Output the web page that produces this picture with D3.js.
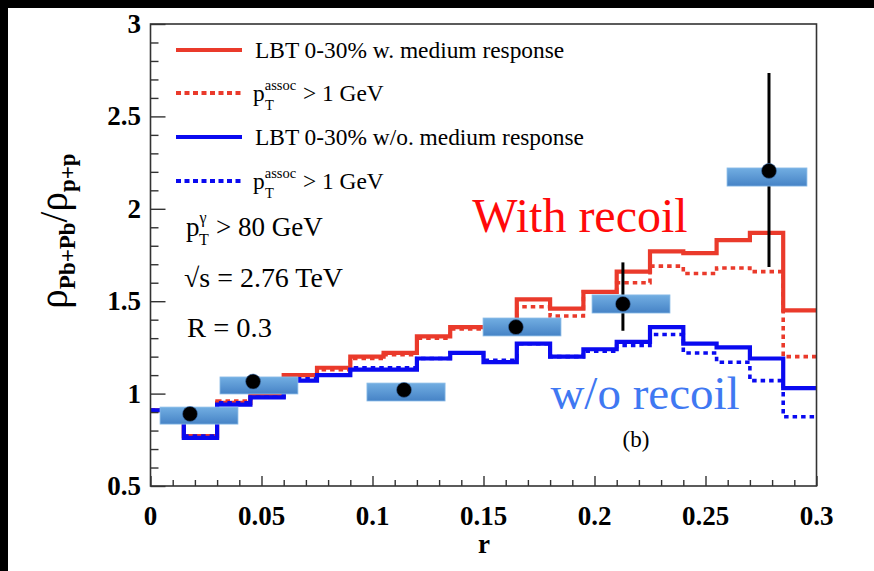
<!DOCTYPE html>
<html>
<head>
<meta charset="utf-8">
<script src="https://cdn.jsdelivr.net/npm/d3@7"></script>
<style>
  html, body { margin: 0; padding: 0; background: #fff; }
  svg { display: block; }
  text { font-family: "Liberation Serif", "Times New Roman", serif; }
</style>
</head>
<body>
<svg id="chart" width="874" height="571"></svg>
<script>
// ---------------- data ----------------
const binLowEdges = [0, 0.015, 0.03, 0.045, 0.06, 0.075, 0.09, 0.105, 0.12, 0.135,
                     0.15, 0.165, 0.18, 0.195, 0.21, 0.225, 0.24, 0.255, 0.27, 0.285];
const binUpperEnd = 0.3;
const redSolid   = [0.91, 0.77, 0.95, 0.99, 1.10, 1.14, 1.20, 1.22, 1.31, 1.36,
                    1.36, 1.51, 1.46, 1.55, 1.66, 1.77, 1.76, 1.83, 1.87, 1.45];
const redDotted  = [0.91, 0.77, 0.96, 0.99, 1.10, 1.13, 1.19, 1.21, 1.30, 1.35,
                    1.36, 1.47, 1.42, 1.55, 1.60, 1.69, 1.65, 1.68, 1.66, 1.20];
const blueSolid  = [0.91, 0.76, 0.94, 0.98, 1.07, 1.10, 1.13, 1.13, 1.19, 1.22,
                    1.17, 1.27, 1.20, 1.24, 1.28, 1.36, 1.27, 1.25, 1.19, 1.03];
const blueDotted = [0.91, 0.77, 0.95, 0.98, 1.08, 1.10, 1.14, 1.14, 1.19, 1.22,
                    1.18, 1.27, 1.20, 1.23, 1.26, 1.32, 1.22, 1.17, 1.07, 0.875];

const pointR   = [0.0178, 0.0462, 0.1142, 0.1646, 0.2128, 0.2786];
const pointV   = [0.89, 1.065, 1.02, 1.36, 1.485, 2.205];
const statLo   = [0.89, 1.065, 1.02, 1.36, 1.34, 1.685];
const statHi   = [0.89, 1.065, 1.02, 1.36, 1.71, 2.735];
const sysRLo   = [0.0043, 0.0313, 0.0975, 0.1498, 0.1989, 0.2597];
const sysRHi   = [0.0394, 0.0664, 0.1327, 0.1849, 0.2340, 0.2957];
const sysVLo   = [0.835, 0.998, 0.960, 1.312, 1.436, 2.123];
const sysVHi   = [0.927, 1.090, 1.057, 1.409, 1.534, 2.221];

const xTickLabels = ["0", "0.05", "0.1", "0.15", "0.2", "0.25", "0.3"];
const xTickValues = [0, 0.05, 0.1, 0.15, 0.2, 0.25, 0.3];
const yTickLabels = ["0.5", "1", "1.5", "2", "2.5", "3"];
const yTickValues = [0.5, 1, 1.5, 2, 2.5, 3];

// ---------------- layout ----------------
const svg = d3.select("#chart");
const W = 874, H = 571;
const plot = { left: 150.5, right: 816.5, top: 24, bottom: 486 };

svg.append("rect").attr("width", W).attr("height", H).attr("fill", "#fff");
// black border strips of the original scan
svg.append("rect").attr("x", 0).attr("y", 0).attr("width", W).attr("height", 8).attr("fill", "#000");
svg.append("rect").attr("x", 0).attr("y", 0).attr("width", 8).attr("height", H).attr("fill", "#000");

const x = d3.scaleLinear().domain([0, 0.3]).range([plot.left, plot.right]);
const y = d3.scaleLinear().domain([0.5, 3]).range([plot.bottom, plot.top]);

const defs = svg.append("defs");
const grad = defs.append("linearGradient").attr("id", "boxGrad")
  .attr("x1", 0).attr("y1", 0).attr("x2", 0).attr("y2", 1);
grad.append("stop").attr("offset", "0%").attr("stop-color", "#72aee2");
grad.append("stop").attr("offset", "100%").attr("stop-color", "#4683c6");
defs.append("clipPath").attr("id", "plotClip").append("rect")
  .attr("x", plot.left).attr("y", plot.top)
  .attr("width", plot.right - plot.left).attr("height", plot.bottom - plot.top);

// ---------------- histograms ----------------
const RED = "#ea3a2b", BLUE = "#0a0af0";
function stepData(vals) {
  const pts = binLowEdges.map((e, i) => [e, vals[i]]);
  pts.push([binUpperEnd, vals[vals.length - 1]]);
  return pts;
}
const stepLine = d3.line().x(d => x(d[0])).y(d => y(d[1])).curve(d3.curveStepAfter);
const gLines = svg.append("g").attr("clip-path", "url(#plotClip)");
const series = [
  { v: redSolid,   c: RED,  dash: null },
  { v: redDotted,  c: RED,  dash: "4.5,4" },
  { v: blueSolid,  c: BLUE, dash: null },
  { v: blueDotted, c: BLUE, dash: "4.5,4" }
];
series.forEach(s => {
  gLines.append("path").datum(stepData(s.v))
    .attr("d", stepLine).attr("fill", "none")
    .attr("stroke", s.c).attr("stroke-width", s.dash ? 3.6 : 4.2)
    .attr("stroke-dasharray", s.dash)
    .attr("stroke-linejoin", "miter").attr("stroke-linecap", "butt");
});

// ---------------- data points ----------------
const gPts = svg.append("g");
pointR.forEach((r, i) => {
  if (statHi[i] > statLo[i]) {
    gPts.append("line").attr("x1", x(r)).attr("x2", x(r))
      .attr("y1", y(statLo[i])).attr("y2", y(statHi[i]))
      .attr("stroke", "#000").attr("stroke-width", 3);
  }
});
pointR.forEach((r, i) => {
  gPts.append("rect")
    .attr("x", x(sysRLo[i])).attr("y", y(sysVHi[i]))
    .attr("width", x(sysRHi[i]) - x(sysRLo[i]))
    .attr("height", y(sysVLo[i]) - y(sysVHi[i]))
    .attr("fill", "url(#boxGrad)").attr("stroke", "#8cbde8").attr("stroke-width", 0.8);
});
pointR.forEach((r, i) => {
  gPts.append("circle").attr("cx", x(r)).attr("cy", y(pointV[i])).attr("r", 7.5)
    .attr("fill", "#000").attr("stroke", "#3a6fb0").attr("stroke-width", 0.6);
});

// ---------------- frame & axes ----------------
svg.append("rect").attr("x", plot.left).attr("y", plot.top)
  .attr("width", plot.right - plot.left).attr("height", plot.bottom - plot.top)
  .attr("fill", "none").attr("stroke", "#333").attr("stroke-width", 1.6);

const yMinor = d3.range(5, 31).map(k => k / 10);
const xMinor = d3.range(0, 31).map(k => k / 100);
const yAxis = d3.axisRight(y).tickValues(yMinor).tickSize(0).tickFormat("");
const gy = svg.append("g").attr("transform", `translate(${plot.left},0)`).call(yAxis);
gy.select(".domain").remove();
gy.selectAll(".tick line").remove();
gy.selectAll(".tick").append("line")
  .attr("x1", 0).attr("x2", d => (Math.abs(d * 2 - Math.round(d * 2)) < 1e-6 ? 15 : 8))
  .attr("stroke", "#333").attr("stroke-width", 1.4);

const xAxis = d3.axisTop(x).tickValues(xMinor).tickSize(0).tickFormat("");
const gx = svg.append("g").attr("transform", `translate(0,${plot.bottom})`).call(xAxis);
gx.select(".domain").remove();
gx.selectAll(".tick line").remove();
gx.selectAll(".tick").append("line")
  .attr("y1", 0).attr("y2", d => (Math.abs(d * 20 - Math.round(d * 20)) < 1e-6 ? -10 : -6))
  .attr("stroke", "#333").attr("stroke-width", 1.4);

// tick labels
const gxl = svg.append("g");
xTickValues.forEach((v, i) => {
  gxl.append("text").attr("x", x(v)).attr("y", 525)
    .attr("text-anchor", "middle").attr("font-weight", "bold").attr("font-size", 27)
    .attr("fill", "#000").text(xTickLabels[i]);
});
yTickValues.forEach((v, i) => {
  gxl.append("text").attr("x", 141).attr("y", y(v) + 9)
    .attr("text-anchor", "end").attr("font-weight", "bold").attr("font-size", 27)
    .attr("fill", "#000").text(yTickLabels[i]);
});

// axis titles
svg.append("text").attr("x", 484).attr("y", 553).attr("text-anchor", "middle")
  .attr("font-weight", "bold").attr("font-size", 27).text("r");

const yt = svg.append("text").attr("transform", "translate(67,231) rotate(-90)")
  .attr("text-anchor", "middle").attr("font-size", 39);
yt.append("tspan").text("ρ");
yt.append("tspan").attr("font-size", 23).attr("font-weight", "bold").attr("dy", 8).text("Pb+Pb");
yt.append("tspan").attr("dy", -8).text("/ρ");
yt.append("tspan").attr("font-size", 23).attr("font-weight", "bold").attr("dy", 8).text("p+p");

// ---------------- legend ----------------
const legend = [
  { c: RED,  dash: null,    y: 50,  label: "main", text: "LBT 0-30% w. medium response" },
  { c: RED,  dash: "5,3.5", y: 93,  label: "pt" },
  { c: BLUE, dash: null,    y: 137, label: "main", text: "LBT 0-30% w/o. medium response" },
  { c: BLUE, dash: "5,3.5", y: 181, label: "pt" }
];
legend.forEach(l => {
  svg.append("line").attr("x1", 176).attr("x2", 242).attr("y1", l.y).attr("y2", l.y)
    .attr("stroke", l.c).attr("stroke-width", 4).attr("stroke-dasharray", l.dash);
  if (l.label === "main") {
    svg.append("text").attr("x", 255).attr("y", l.y + 8).attr("font-size", 23.4).text(l.text);
  } else {
    const t = svg.append("text").attr("x", 253).attr("y", l.y + 8).attr("font-size", 23.4);
    t.append("tspan").text("p");
    t.append("tspan").attr("font-size", 14.5).attr("dy", -11).text("assoc");
    t.append("tspan").attr("font-size", 14.5).attr("x", 265).attr("dy", 20).text("T");
    t.append("tspan").attr("x", 303).attr("dy", -9).text("> 1 GeV");
  }
});

// ---------------- annotations ----------------
const ann = svg.append("g").attr("font-size", 27);
const a1 = ann.append("text").attr("x", 186).attr("y", 236);
a1.append("tspan").text("p");
a1.append("tspan").attr("font-size", 16).attr("dy", -13).text("γ");
a1.append("tspan").attr("font-size", 16).attr("x", 199).attr("dy", 22).text("T");
a1.append("tspan").attr("x", 216).attr("dy", -9).text("> 80 GeV");
ann.append("text").attr("x", 184).attr("y", 287).attr("textLength", 159)
  .attr("lengthAdjust", "spacingAndGlyphs").text("√s = 2.76 TeV");
ann.append("text").attr("x", 187).attr("y", 337).attr("textLength", 85)
  .attr("lengthAdjust", "spacingAndGlyphs").text("R = 0.3");

svg.append("text").attr("x", 580).attr("y", 232).attr("text-anchor", "middle")
  .attr("font-size", 48).attr("fill", "#ff0a0a").text("With recoil");
svg.append("text").attr("x", 645).attr("y", 409).attr("text-anchor", "middle")
  .attr("font-size", 47).attr("fill", "#3f78f2").text("w/o recoil");
svg.append("text").attr("x", 636).attr("y", 447).attr("text-anchor", "middle")
  .attr("font-size", 23).attr("fill", "#000").text("(b)");
</script>
</body>
</html>
